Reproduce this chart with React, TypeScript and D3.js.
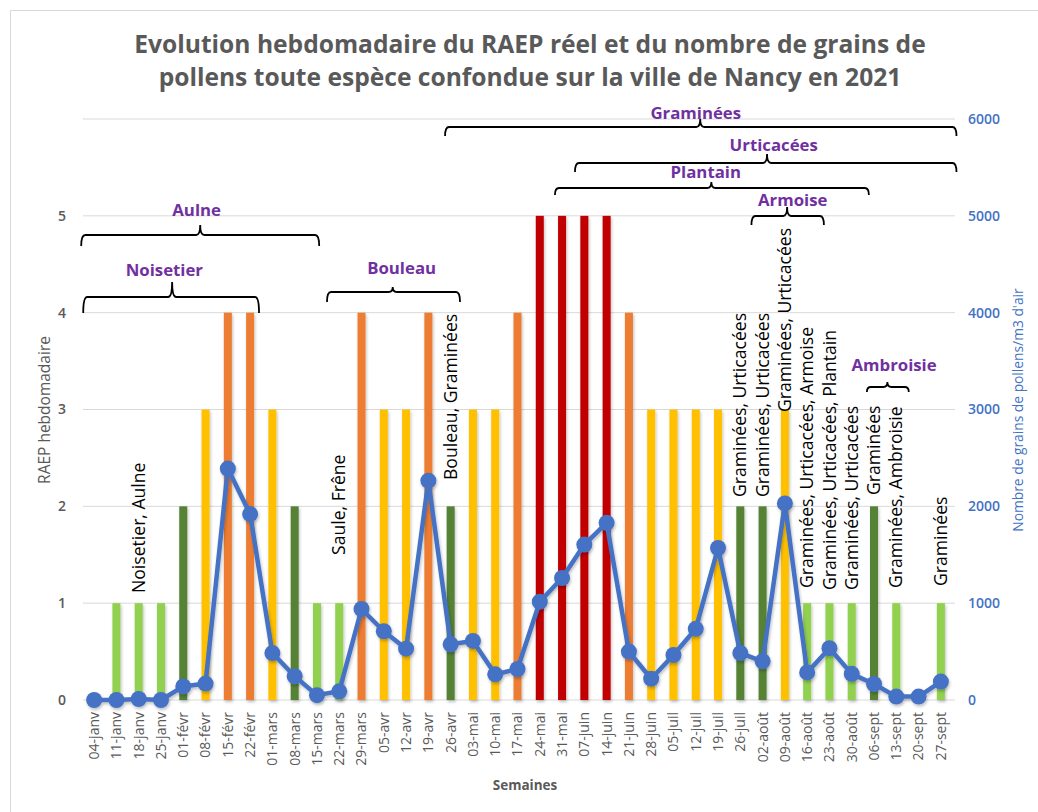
import React from 'react';
import * as d3 from 'd3';

const weeks = [
  '04-janv', '11-janv', '18-janv', '25-janv', '01-févr', '08-févr', '15-févr', '22-févr',
  '01-mars', '08-mars', '15-mars', '22-mars', '29-mars', '05-avr', '12-avr', '19-avr',
  '26-avr', '03-mai', '10-mai', '17-mai', '24-mai', '31-mai', '07-juin', '14-juin',
  '21-juin', '28-juin', '05-juil', '12-juil', '19-juil', '26-juil', '02-août', '09-août',
  '16-août', '23-août', '30-août', '06-sept', '13-sept', '20-sept', '27-sept',
];

// RAEP hebdomadaire (0-5)
const raep = [
  0, 1, 1, 1, 2, 3, 4, 4,
  3, 2, 1, 1, 4, 3, 3, 4,
  2, 3, 3, 4, 5, 5, 5, 5,
  4, 3, 3, 3, 3, 2, 2, 3,
  1, 1, 1, 2, 1, 0, 1,
];

// grains de pollens / m3 d'air
const pollens = [
  0, 0, 10, 0, 140, 170, 2390, 1920,
  485, 245, 50, 90, 940, 710, 530, 2265,
  575, 610, 265, 320, 1015, 1260, 1605, 1830,
  500, 220, 465, 735, 1570, 485, 400, 2030,
  285, 535, 270, 165, 35, 35, 190,
];

const raepColors = ['none', '#92D050', '#548235', '#FFC000', '#ED7D31', '#C00000'];

const leftTicks = [0, 1, 2, 3, 4, 5];
const rightTicks = [0, 1000, 2000, 3000, 4000, 5000, 6000];

// espèces en cours (accolades) : positions exprimées en index de semaine
const species = [
  { name: 'Graminées', from: 15.75, to: 38.7, peak: 27.2, label: 27.0, line: 127, end: 136, top: 119, ty: 119 },
  { name: 'Urticacées', from: 21.58, to: 38.7, peak: 30.2, label: 30.5, line: 163, end: 172, top: 154, ty: 151 },
  { name: 'Plantain', from: 20.68, to: 34.77, peak: 27.7, label: 27.45, line: 188, end: 195, top: 182, ty: 178 },
  { name: 'Armoise', from: 29.5, to: 32.75, peak: 31.1, label: 31.35, line: 216, end: 225, top: 207, ty: 206 },
  { name: 'Aulne', from: -0.58, to: 10.1, peak: 4.76, label: 4.6, line: 235, end: 246, top: 225, ty: 216 },
  { name: 'Noisetier', from: -0.49, to: 7.4, peak: 3.5, label: 3.15, line: 297, end: 313, top: 282, ty: 276 },
  { name: 'Bouleau', from: 10.45, to: 16.42, peak: 13.4, label: 13.8, line: 292, end: 302, top: 287, ty: 274 },
  { name: 'Ambroisie', from: 34.68, to: 36.56, peak: 35.6, label: 35.9, line: 387, end: 392, top: 382, ty: 371 },
];

// pollens dominants notés sur certaines semaines
const notes = [
  { week: '18-janv', text: 'Noisetier, Aulne', bottom: 593 },
  { week: '22-mars', text: 'Saule, Frêne', bottom: 555 },
  { week: '26-avr', text: 'Bouleau, Graminées', bottom: 480 },
  { week: '26-juil', text: 'Graminées, Urticacées', bottom: 497 },
  { week: '02-août', text: 'Graminées, Urticacées', bottom: 497 },
  { week: '09-août', text: 'Graminées, Urticacées', bottom: 412 },
  { week: '16-août', text: 'Graminées, Urticacées, Armoise', bottom: 588 },
  { week: '23-août', text: 'Graminées, Urticacées, Plantain', bottom: 590 },
  { week: '30-août', text: 'Graminées, Urticacées', bottom: 590 },
  { week: '06-sept', text: 'Graminées', bottom: 495 },
  { week: '13-sept', text: 'Graminées, Ambroisie', bottom: 588 },
  { week: '27-sept', text: 'Graminées', bottom: 586 },
];

const W = 1038;
const H = 812;
const FONT = '"Open Sans", sans-serif';
const GRAY = '#595959';
const BLUE = '#4472C4';
const PURPLE = '#7030A0';

const App = () => {
  const x = d3.scaleBand().domain(weeks).range([83, 952]).paddingInner(0.64).paddingOuter(0.32);
  const yLeft = d3.scaleLinear().domain([0, 6]).range([700, 119]);
  const yRight = d3.scaleLinear().domain([0, 6000]).range([700, 119]);
  const cx = (w: string) => (x(w) ?? 0) + x.bandwidth() / 2;
  const xi = (i: number) => cx(weeks[0]) + x.step() * i;

  const line = d3.line<number>()
    .x((_, i) => cx(weeks[i]))
    .y((d) => yRight(d));

  const brace = (s: typeof species[number]) => {
    const x1 = xi(s.from), x2 = xi(s.to), xm = xi(s.peak), r = 4;
    return `M${x1},${s.end} Q${x1},${s.line} ${x1 + r},${s.line} L${xm - r},${s.line} Q${xm},${s.line} ${xm},${s.top} ` +
      `Q${xm},${s.line} ${xm + r},${s.line} L${x2 - r},${s.line} Q${x2},${s.line} ${x2},${s.end}`;
  };

  return (
    <svg width={W} height={H} style={{ position: 'absolute', left: 0, top: 0, fontFamily: FONT, background: '#fff' }}>
      <defs>
        <filter id="shadow" x="-20%" y="-20%" width="140%" height="140%">
          <feDropShadow dx="1" dy="2" stdDeviation="1.5" floodColor="#000" floodOpacity="0.25" />
        </filter>
      </defs>
      <rect x={10.5} y={10.5} width={W + 10} height={H + 10} fill="#fff" stroke="#D9D9D9" strokeWidth={1} />

      {/* titre */}
      <text x={530} y={53} textAnchor="middle" fontSize={24.6} fontWeight="bold" fill={GRAY}>
        Evolution hebdomadaire du RAEP réel et du nombre de grains de
      </text>
      <text x={530} y={86} textAnchor="middle" fontSize={24.6} fontWeight="bold" fill={GRAY}>
        pollens toute espèce confondue sur la ville de Nancy en 2021
      </text>

      {/* grille */}
      {rightTicks.map((t) => (
        <line key={t} x1={83} x2={955} y1={yRight(t)} y2={yRight(t)} stroke="#D9D9D9" strokeWidth={1} />
      ))}

      {/* axes */}
      {leftTicks.map((t) => (
        <text key={t} x={62} y={yLeft(t)} dy="0.35em" textAnchor="middle" fontSize={14} fontWeight={600} fill={GRAY}>
          {t}
        </text>
      ))}
      {rightTicks.map((t) => (
        <text key={t} x={968} y={yRight(t)} dy="0.35em" fontSize={14} fontWeight={600} fill={BLUE}>
          {t}
        </text>
      ))}
      <text transform="translate(45,410) rotate(-90)" textAnchor="middle" dy="0.35em" fontSize={15.5} fill={GRAY}>
        RAEP hebdomadaire
      </text>
      <text transform="translate(1018,410) rotate(-90)" textAnchor="middle" dy="0.35em" fontSize={13.8} fill={BLUE}>
        Nombre de grains de pollens/m3 d'air
      </text>
      {weeks.map((w) => (
        <text key={w} transform={`translate(${cx(w)},712) rotate(-90)`} textAnchor="end" dy="0.35em" fontSize={14} fill={GRAY}>
          {w}
        </text>
      ))}
      <text x={525} y={790} textAnchor="middle" fontSize={13.5} fontWeight="bold" fill={GRAY}>
        Semaines
      </text>

      {/* barres RAEP */}
      <g filter="url(#shadow)">
        {raep.map((v, i) =>
          v > 0 ? (
            <rect key={weeks[i]} x={x(weeks[i])} y={yLeft(v)} width={x.bandwidth()} height={yLeft(0) - yLeft(v)} fill={raepColors[v]} />
          ) : null
        )}
      </g>

      {/* courbe pollens */}
      <g filter="url(#shadow)">
        <path d={line(pollens) ?? ''} fill="none" stroke={BLUE} strokeWidth={4.5} strokeLinejoin="round" />
        {pollens.map((v, i) => (
          <circle key={weeks[i]} cx={cx(weeks[i])} cy={yRight(v)} r={8} fill={BLUE} />
        ))}
      </g>

      {/* accolades espèces */}
      {species.map((s) => (
        <g key={s.name}>
          <path d={brace(s)} fill="none" stroke="#000" strokeWidth={1.8} />
          <text x={xi(s.label)} y={s.ty} textAnchor="middle" fontSize={16.8} fontWeight="bold" fill={PURPLE}>
            {s.name}
          </text>
        </g>
      ))}

      {/* notes verticales */}
      {notes.map((n, k) => (
        <text key={k} transform={`translate(${cx(n.week)},${n.bottom}) rotate(-90)`} dy="0.35em" fontSize={17.6} fill="#000">
          {n.text}
        </text>
      ))}
    </svg>
  );
};

export default App;
